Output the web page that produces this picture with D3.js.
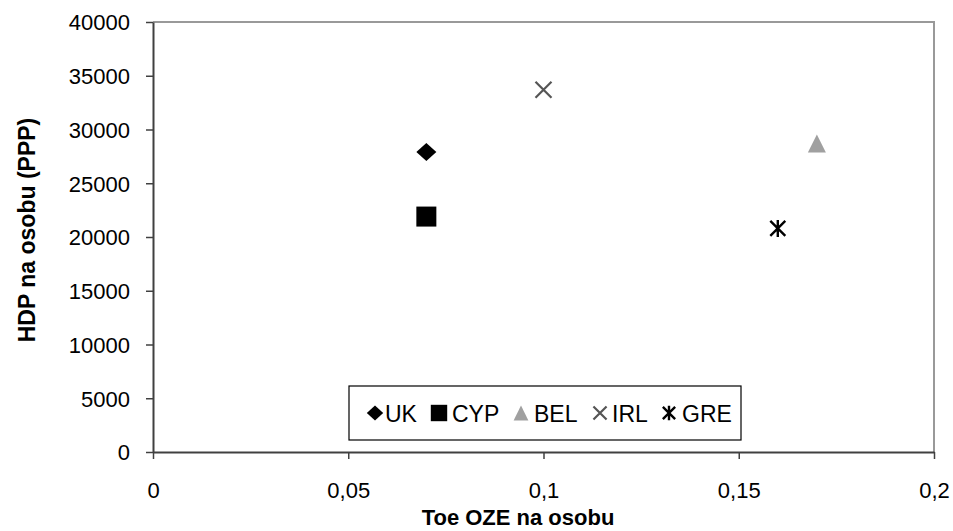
<!DOCTYPE html>
<html><head><meta charset="utf-8">
<script src="https://cdn.jsdelivr.net/npm/d3@7"></script>
<style>body{margin:0;background:#fff}svg{font-family:"Liberation Sans",Arial,sans-serif}</style>
</head><body><svg id="c" width="953" height="531"></svg>
<script>
const countries = ["UK","CYP","BEL","IRL","GRE"];
const toeValues = [0.07, 0.07, 0.17, 0.10, 0.16];
const hdpValues = [27900, 21900, 28700, 33700, 20800];
const xTicks = [0, 0.05, 0.1, 0.15, 0.2];
const yTicks = [0,5000,10000,15000,20000,25000,30000,35000,40000];
const symbols = ["diamond","square","triangle","x","star"];
const colors = ["#000","#000","#a0a0a0","#555","#000"];

const svg = d3.select("#c");
const L=153,R=934,T=22,B=452;
const x = d3.scaleLinear().domain([0,0.2]).range([L,R]);
const y = d3.scaleLinear().domain([0,40000]).range([B,T]);

svg.append("path").attr("d",`M${L},${T}H${R}V${B}`).attr("fill","none").attr("stroke","#999").attr("stroke-width",2);

const fmt = d => String(d).replace(".",",");
const xa = svg.append("g").attr("transform",`translate(0,${B})`)
  .call(d3.axisBottom(x).tickValues(xTicks).tickSize(7).tickFormat(fmt).tickSizeOuter(0));
const ya = svg.append("g").attr("transform",`translate(${L},0)`)
  .call(d3.axisLeft(y).tickValues(yTicks).tickSize(7).tickFormat(d=>d).tickSizeOuter(0));
[xa,ya].forEach(a=>{
  a.select(".domain").attr("stroke","#404040").attr("stroke-width",2);
  a.selectAll(".tick line").attr("stroke","#404040").attr("stroke-width",1.5);
  a.selectAll("text").attr("font-size",22).attr("fill","#000").attr("font-family","Liberation Sans, Arial, sans-serif");
});
xa.selectAll("text").attr("y",null).attr("dy",null).attr("transform","translate(0,46)");
ya.selectAll("text").attr("x",-23).attr("dy","0.36em");

function marker(g, s, c, cx, cy, k){
  if(s==="diamond"){
    g.append("path").attr("d",`M${cx},${cy-9*k}L${cx+10*k},${cy}L${cx},${cy+9*k}L${cx-10*k},${cy}Z`).attr("fill",c);
  } else if(s==="square"){
    const h=10*k; g.append("rect").attr("x",cx-h).attr("y",cy-h).attr("width",2*h).attr("height",2*h).attr("fill",c);
  } else if(s==="triangle"){
    const h=9*k; g.append("path").attr("d",`M${cx},${cy-h}L${cx+9*k},${cy+h}L${cx-9*k},${cy+h}Z`).attr("fill",c);
  } else if(s==="x"){
    const h=8*k; g.append("path").attr("d",`M${cx-h},${cy-h}L${cx+h},${cy+h}M${cx+h},${cy-h}L${cx-h},${cy+h}`).attr("stroke",c).attr("stroke-width",2.2);
  } else if(s==="star"){
    const h=7.5*k; g.append("path").attr("d",`M${cx-h},${cy-h}L${cx+h},${cy+h}M${cx+h},${cy-h}L${cx-h},${cy+h}M${cx},${cy-h-1}V${cy+h+1}`).attr("stroke",c).attr("stroke-width",2.4);
  }
}
const pts = svg.append("g");
countries.forEach((c,i)=>marker(pts, symbols[i], colors[i], x(toeValues[i]), y(hdpValues[i]), 1));

// legend
const lg = svg.append("g");
lg.append("rect").attr("x",349).attr("y",386).attr("width",392).attr("height",54).attr("fill","#fff").attr("stroke","#000").attr("stroke-width",1.2);
const lx = [375, 439, 521, 600, 669];
const tx = [385, 452, 534, 612, 682];
countries.forEach((c,i)=>{
  marker(lg, symbols[i], colors[i], lx[i], 413, 0.82);
  lg.append("text").attr("x",tx[i]).attr("y",422).attr("font-size",23).attr("fill","#000").text(c);
});

svg.append("text").attr("x",518).attr("y",525).attr("text-anchor","middle").attr("font-weight","bold").attr("font-size",22).text("Toe OZE na osobu");
svg.append("text").attr("transform",`translate(35,230) rotate(-90)`).attr("text-anchor","middle").attr("font-weight","bold").attr("font-size",23).text("HDP na osobu (PPP)");
</script></body></html>
